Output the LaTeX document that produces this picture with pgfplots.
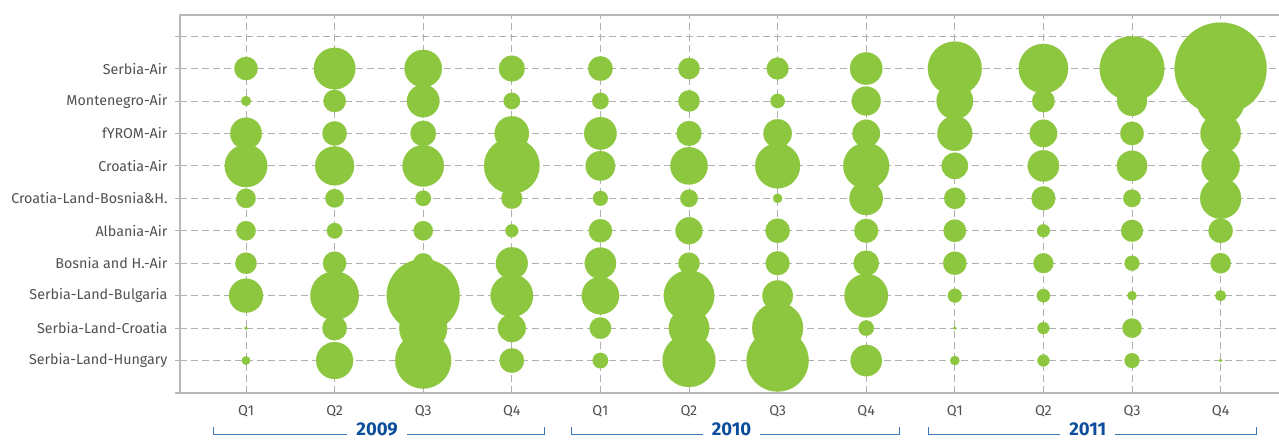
\documentclass[border=0pt]{standalone}
\usepackage{pgfplots}
\pgfplotsset{compat=1.18}
\usepackage{fontspec}
\setmainfont{Fira Sans}
\definecolor{bubble}{HTML}{8DC63F}
\definecolor{gridc}{HTML}{B0B0B0}
\definecolor{axisc}{HTML}{B8B8B8}
\definecolor{labc}{HTML}{505050}
\definecolor{brk}{HTML}{3A78C0}
\definecolor{yearc}{HTML}{0D4E9C}
\begin{document}
\begin{tikzpicture}
\useasboundingbox (0,0) rectangle (1279pt,441pt);
\begin{axis}[
  at={(180pt,48pt)}, anchor=south west,
  scale only axis, width=1099pt, height=378pt,
  xmin=0.255, xmax=12.659, ymin=0, ymax=11.65,
  axis line style={draw=none},
  clip=false,
  xtick={1,...,12},
  xticklabels={Q1,Q2,Q3,Q4,Q1,Q2,Q3,Q4,Q1,Q2,Q3,Q4},
  ytick={1,...,11},
  yticklabels={Serbia-Land-Hungary,Serbia-Land-Croatia,Serbia-Land-Bulgaria,Bosnia and H.-Air,Albania-Air,Croatia-Land-Bosnia\&H.,Croatia-Air,fYROM-Air,Montenegro-Air,Serbia-Air,{}},
  ytick pos=left, xtick pos=bottom,
  x tick style={draw=none},
  y tick style={draw=gridc, line width=0.9pt},
  tick align=outside, major tick length=5pt,
  grid=major,
  major grid style={draw=gridc, line width=0.9pt, dash pattern=on 7pt off 4pt},
  ticklabel style={font=\fontsize{14.3}{16}\selectfont, text=labc},
  yticklabel style={xshift=-4pt},
  xticklabel style={yshift=-4pt},
]
\addplot[scatter, only marks, mark=*,
  mark options={line width=0.1pt},
  scatter/use mapped color={draw=bubble, fill=bubble},
  visualization depends on={\thisrow{r} \as \rad},
  scatter/@pre marker code/.append style={/tikz/mark size=\rad}]
  table[x=x, y=y] {
x y r
1 10 11.7
1 9 5
1 8 15.8
1 7 21.3
1 6 9.7
1 5 9.7
1 4 10.7
1 3 17
1 2 1.7
1 1 4.3
2 10 20.8
2 9 11.2
2 8 12.2
2 7 19.5
2 6 9.3
2 5 7.8
2 4 11.7
2 3 24.3
2 2 12.3
2 1 18.5
3 10 18.7
3 9 16.3
3 8 12.8
3 7 20.7
3 6 7.8
3 5 9.7
3 4 10
3 3 36.5
3 2 24
3 1 28
4 10 13
4 9 8.3
4 8 17.2
4 7 27.8
4 6 10.5
4 5 6.5
4 4 16
4 3 21.3
4 2 14
4 1 12.3
5 10 12.3
5 9 8.3
5 8 16.3
5 7 14.8
5 6 7.5
5 5 11.7
5 4 15.7
5 3 18.7
5 2 10.8
5 1 7.8
6 10 10.7
6 9 10.7
6 8 12.5
6 7 18.7
6 6 8.8
6 5 13.5
6 4 10.7
6 3 25.3
6 2 20.3
6 1 26.5
7 10 11
7 9 7.2
7 8 14.2
7 7 22.5
7 6 4.7
7 5 12.2
7 4 12
7 3 15.3
7 2 25.5
7 1 31
8 10 16.2
8 9 14.5
8 8 13.8
8 7 23
8 6 16.8
8 5 12
8 4 12.7
8 3 21.8
8 2 7.7
8 1 15.7
9 10 27
9 9 18.3
9 8 17.5
9 7 13.2
9 6 10.7
9 5 11.3
9 4 11.7
9 3 7
9 2 1.7
9 1 4.7
10 10 24.7
10 9 11.3
10 8 13.8
10 7 15.7
10 6 12
10 5 6.5
10 4 10
10 3 6.7
10 2 6
10 1 6
11 10 32.3
11 9 15
11 8 11.8
11 7 15.2
11 6 8.8
11 5 11
11 4 7.5
11 3 4.7
11 2 9.7
11 1 7.5
12 10 46
12 9 24
12 8 20.2
12 7 19.2
12 6 20.5
12 5 12.2
12 4 10.2
12 3 5.5
12 1 1.7
};
% axis frame: left, top, bottom
\draw[axisc, line width=1.2pt] (rel axis cs:0,0) -- (rel axis cs:0,1) -- (rel axis cs:1,1);
\draw[axisc, line width=1.2pt] ([xshift=-5pt]rel axis cs:0,0) -- (rel axis cs:1,0);
% year brackets
\draw[brk, line width=0.9pt] ([yshift=-34pt]axis cs:0.63,0) |- ([yshift=-41pt]axis cs:4.37,0) -- ([yshift=-34pt]axis cs:4.37,0);
\node[fill=white, inner xsep=9pt, inner ysep=0pt, text=yearc, font=\fontsize{18.5}{20}\selectfont\bfseries] at ([yshift=-36.5pt]axis cs:2.48,0) {2009};
\draw[brk, line width=0.9pt] ([yshift=-34pt]axis cs:4.67,0) |- ([yshift=-41pt]axis cs:8.37,0) -- ([yshift=-34pt]axis cs:8.37,0);
\node[fill=white, inner xsep=9pt, inner ysep=0pt, text=yearc, font=\fontsize{18.5}{20}\selectfont\bfseries] at ([yshift=-36.5pt]axis cs:6.48,0) {2010};
\draw[brk, line width=0.9pt] ([yshift=-34pt]axis cs:8.70,0) |- ([yshift=-41pt]axis cs:12.40,0) -- ([yshift=-34pt]axis cs:12.40,0);
\node[fill=white, inner xsep=9pt, inner ysep=0pt, text=yearc, font=\fontsize{18.5}{20}\selectfont\bfseries] at ([yshift=-36.5pt]axis cs:10.5,0) {2011};
\end{axis}
\end{tikzpicture}
\end{document}
